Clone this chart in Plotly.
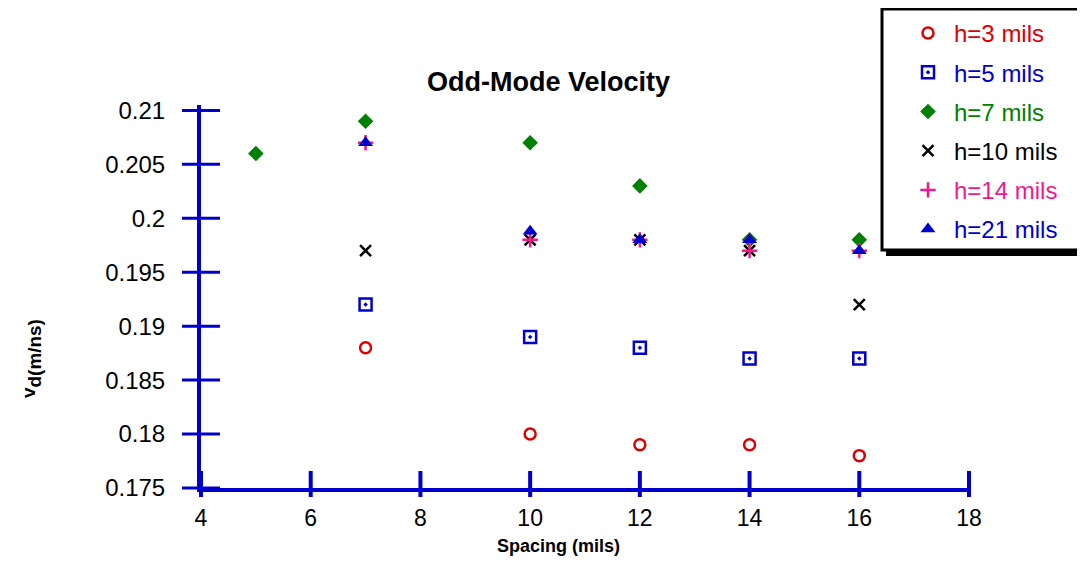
import plotly.graph_objects as go

# ---- data ----
x_h3 = [7, 10, 12, 14, 16]
y_h3 = [0.188, 0.180, 0.179, 0.179, 0.178]
x_h5 = [7, 10, 12, 14, 16]
y_h5 = [0.192, 0.189, 0.188, 0.187, 0.187]
x_h7 = [5, 7, 10, 12, 14, 16]
y_h7 = [0.206, 0.209, 0.207, 0.203, 0.198, 0.198]
x_h10 = [7, 10, 12, 14, 16]
y_h10 = [0.197, 0.198, 0.198, 0.197, 0.192]
x_h14 = [7, 10, 12, 14, 16]
y_h14 = [0.207, 0.198, 0.198, 0.197, 0.197]
x_h21 = [7, 10, 12, 14, 16]
y_h21 = [0.207, 0.1988, 0.198, 0.198, 0.197]

series_names = ["h=3 mils", "h=5 mils", "h=7 mils", "h=10 mils", "h=14 mils", "h=21 mils"]
xtick_vals = [4, 6, 8, 10, 12, 14, 16, 18]
ytick_vals = [0.175, 0.18, 0.185, 0.19, 0.195, 0.2, 0.205, 0.21]
ytick_text = ["0.175", "0.18", "0.185", "0.19", "0.195", "0.2", "0.205", "0.21"]

FONT = "Liberation Sans, Arial, sans-serif"
AX = "#0000CC"
RED = "#DD0000"
BLUE = "#0000CC"
GREEN = "#008000"
BLACK = "#000000"
PINK = "#EE1A8C"

styles = [
    (x_h3, y_h3, dict(symbol="circle-open", size=11, color=RED, line=dict(width=2.5, color=RED)), RED),
    (x_h5, y_h5, dict(symbol="square-open-dot", size=12, color=BLUE, line=dict(width=2.5, color=BLUE)), BLUE),
    (x_h7, y_h7, dict(symbol="diamond", size=12, color=GREEN, line=dict(width=0)), GREEN),
    (x_h10, y_h10, dict(symbol="x-thin-open", size=11, color=BLACK, line=dict(width=2.5, color=BLACK)), BLACK),
    (x_h14, y_h14, dict(symbol="cross-thin-open", size=11, color=PINK, line=dict(width=2.5, color=PINK)), PINK),
    (x_h21, y_h21, dict(symbol="triangle-up", size=13, color=BLUE, line=dict(width=0)), BLUE),
]

fig = go.Figure()
for (xs, ys, mk, col), nm in zip(styles, series_names):
    fig.add_trace(go.Scatter(
        x=xs, y=ys, mode="markers", marker=mk,
        name=f"<span style='color:{col}'>{nm}</span>",
        legendgroup=nm,
    ))

# page has an 8px body margin; figure sized so it fits the window
OFF = 8
W, H = 1077, 553
L, R, T, B = 193, 116, 97, 73
pw, ph = W - L - R, H - T - B
XR = [4, 18]
YR = [0.175, 0.2105]

def px(xp):
    return (xp - OFF - L) / pw

def py(yp):
    return (H - B - (yp - OFF)) / ph

def xdom(v):
    return (v - XR[0]) / (XR[1] - XR[0])

def ydom(v):
    return (v - YR[0]) / (YR[1] - YR[0])

shapes = []
# legend shadow and box
shapes.append(dict(type="rect", xref="paper", yref="paper",
                   x0=px(886), x1=px(1090), y0=py(256), y1=py(13),
                   fillcolor="black", line=dict(width=0), layer="above"))
shapes.append(dict(type="rect", xref="paper", yref="paper",
                   x0=px(882), x1=px(1088), y0=py(250), y1=py(9),
                   fillcolor="white", line=dict(width=3, color="black"), layer="above"))
# y ticks crossing the axis
for v in ytick_vals:
    shapes.append(dict(type="line", xref="x domain", yref="y domain", xsizemode="pixel", xanchor=0,
                       x0=-19, x1=19, y0=ydom(v), y1=ydom(v), line=dict(color=AX, width=3)))
# x ticks crossing the axis
for v in xtick_vals:
    shapes.append(dict(type="line", xref="x domain", yref="y domain", ysizemode="pixel", yanchor=0,
                       y0=-9, y1=17, x0=xdom(v), x1=xdom(v), line=dict(color=AX, width=4)))

fig.update_layout(
    width=W, height=H,
    margin=dict(l=L, r=R, t=T, b=B, autoexpand=False),
    paper_bgcolor="white", plot_bgcolor="white",
    font=dict(family=FONT, color="black"),
    showlegend=True,
    legend=dict(x=px(902), y=py(11), xanchor="left", yanchor="top",
                bgcolor="rgba(0,0,0,0)", borderwidth=0,
                font=dict(size=24, family=FONT),
                itemwidth=42, tracegroupgap=5, traceorder="grouped"),
    xaxis=dict(range=XR, tickvals=xtick_vals, ticks="", showgrid=False, zeroline=False,
               showline=True, linecolor=AX, linewidth=4,
               tickfont=dict(size=23, family=FONT), ticklabelstandoff=6),
    yaxis=dict(range=YR, tickvals=ytick_vals, ticktext=ytick_text, ticks="",
               showgrid=False, zeroline=False,
               showline=True, linecolor=AX, linewidth=4,
               tickfont=dict(size=24, family=FONT), ticklabelstandoff=27),
    shapes=shapes,
    annotations=[
        dict(text="<b>Odd-Mode Velocity</b>", xref="paper", yref="paper", x=px(548), y=py(82),
             xanchor="center", yanchor="middle", showarrow=False, font=dict(size=27, family=FONT)),
        dict(text="<b>Spacing (mils)</b>", xref="paper", yref="paper", x=px(558), y=py(546),
             xanchor="center", yanchor="middle", showarrow=False, font=dict(size=18, family=FONT)),
        dict(text="<b><span style='font-size:19px'>v</span><sub>d(m/ns)</sub></b>", xref="paper", yref="paper",
             x=px(31), y=py(359), textangle=-90,
             xanchor="center", yanchor="middle", showarrow=False, font=dict(size=27, family=FONT)),
    ],
)

fig.write_html("out.html")
